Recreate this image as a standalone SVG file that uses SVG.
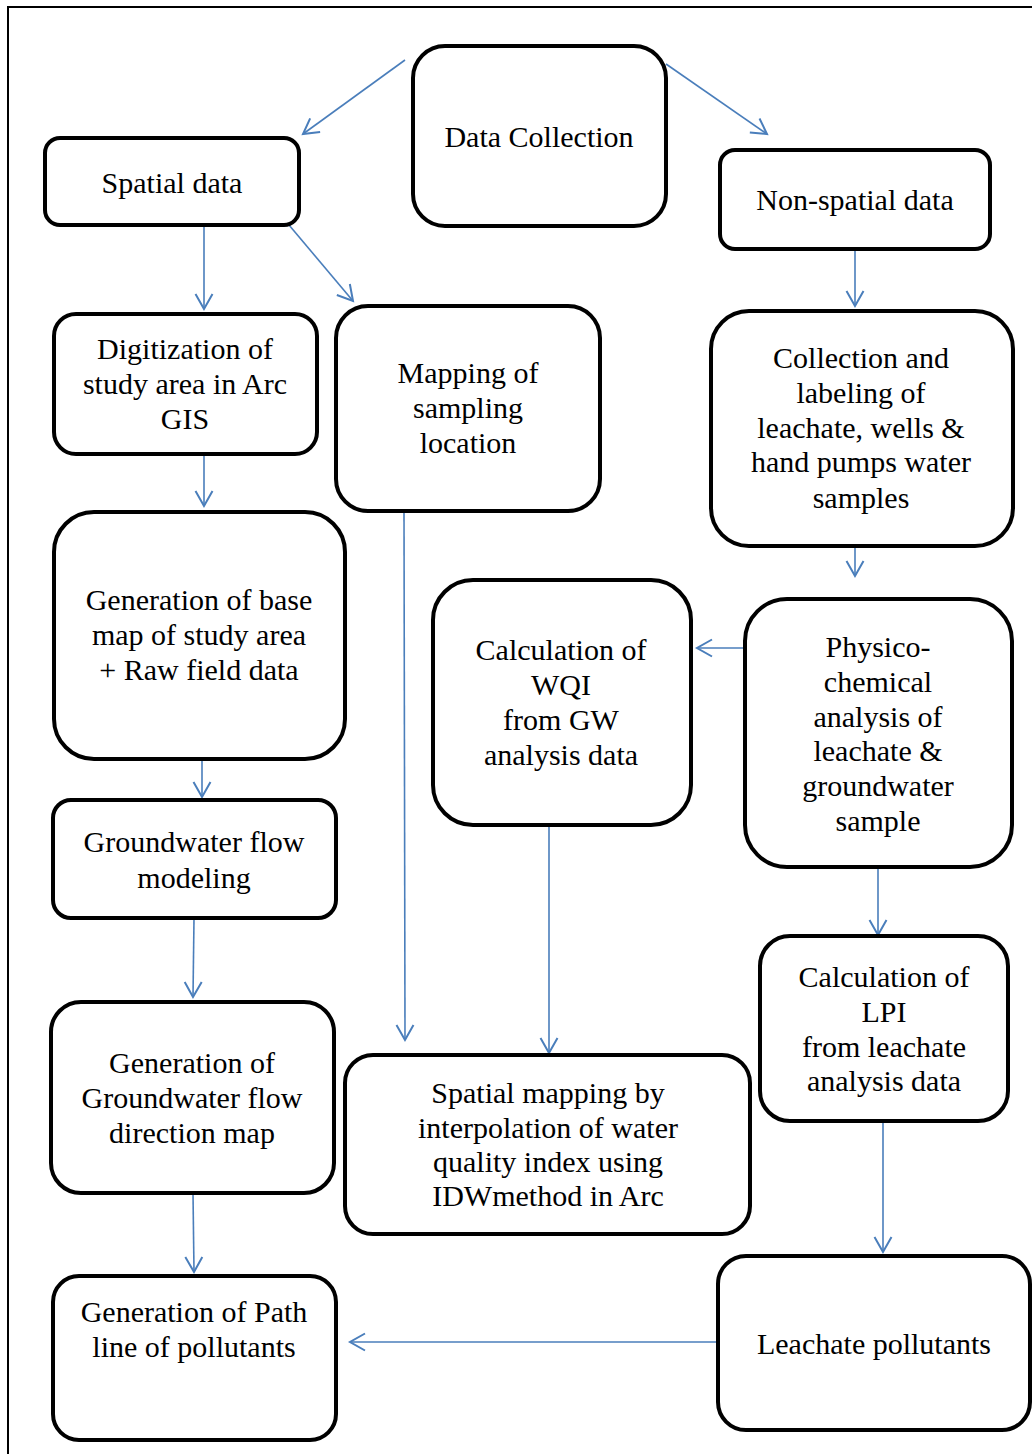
<svg xmlns="http://www.w3.org/2000/svg" width="1032" height="1454" viewBox="0 0 1032 1454">
<style>
.box{fill:#fff;stroke:#000;stroke-width:4}
.t{font-family:"Liberation Serif","Times New Roman",serif;font-size:30px;fill:#000;text-anchor:middle}
.c{stroke:#4a7ebb;stroke-width:1.6;fill:none}
</style>
<defs>
<marker id="ah" markerUnits="userSpaceOnUse" markerWidth="20" markerHeight="20" viewBox="0 0 20 20" refX="16" refY="10" orient="auto">
<path d="M1,1.5 L16,10 L1,18.5" fill="none" stroke="#4a7ebb" stroke-width="2"/>
</marker>
</defs>
<rect x="8" y="7" width="1040" height="1460" fill="none" stroke="#000" stroke-width="2"/>
<g id="connectors">
<line class="c" x1="405" y1="60" x2="303" y2="134" marker-end="url(#ah)"/>
<line class="c" x1="666" y1="64" x2="767" y2="134" marker-end="url(#ah)"/>
<line class="c" x1="204" y1="226" x2="204" y2="309" marker-end="url(#ah)"/>
<line class="c" x1="289" y1="225" x2="353" y2="301" marker-end="url(#ah)"/>
<line class="c" x1="855" y1="249" x2="855" y2="306" marker-end="url(#ah)"/>
<line class="c" x1="204" y1="455" x2="204" y2="506" marker-end="url(#ah)"/>
<line class="c" x1="855" y1="546" x2="855" y2="576" marker-end="url(#ah)"/>
<line class="c" x1="745" y1="648" x2="697" y2="648" marker-end="url(#ah)"/>
<line class="c" x1="202" y1="760" x2="202" y2="797" marker-end="url(#ah)"/>
<line class="c" x1="878" y1="868" x2="878" y2="935" marker-end="url(#ah)"/>
<line class="c" x1="194" y1="918" x2="193" y2="997" marker-end="url(#ah)"/>
<line class="c" x1="404" y1="511" x2="405" y2="1040" marker-end="url(#ah)"/>
<line class="c" x1="549" y1="825" x2="549" y2="1053" marker-end="url(#ah)"/>
<line class="c" x1="883" y1="1122" x2="883" y2="1252" marker-end="url(#ah)"/>
<line class="c" x1="193" y1="1193" x2="194" y2="1272" marker-end="url(#ah)"/>
<line class="c" x1="718" y1="1342" x2="350" y2="1342" marker-end="url(#ah)"/>
</g>
<g id="data-collection"><rect class="box" x="413" y="46" width="253" height="180" rx="32"/><text class="t" x="539" y="147">Data Collection</text></g>
<g id="spatial-data"><rect class="box" x="45" y="138" width="254" height="87" rx="15"/><text class="t" x="172" y="193">Spatial data</text></g>
<g id="non-spatial-data"><rect class="box" x="720" y="150" width="270" height="99" rx="15"/><text class="t" x="855" y="210">Non-spatial data</text></g>
<g id="digitization"><rect class="box" x="54" y="314" width="263" height="140" rx="22"/><text class="t" x="185" y="359">Digitization of</text><text class="t" x="185" y="394">study area in Arc</text><text class="t" x="185" y="429">GIS</text></g>
<g id="mapping"><rect class="box" x="336" y="306" width="264" height="205" rx="32"/><text class="t" x="468" y="383">Mapping of</text><text class="t" x="468" y="418">sampling</text><text class="t" x="468" y="453">location</text></g>
<g id="collection-labeling"><rect class="box" x="711" y="311" width="302" height="235" rx="38"/><text class="t" x="861" y="368">Collection and</text><text class="t" x="861" y="403">labeling of</text><text class="t" x="861" y="438">leachate, wells &amp;</text><text class="t" x="861" y="472">hand pumps water</text><text class="t" x="861" y="508">samples</text></g>
<g id="base-map"><rect class="box" x="54" y="512" width="291" height="247" rx="40"/><text class="t" x="199" y="610">Generation of base</text><text class="t" x="199" y="645">map of study area</text><text class="t" x="199" y="680">+ Raw field data</text></g>
<g id="wqi"><rect class="box" x="433" y="580" width="258" height="245" rx="40"/><text class="t" x="561" y="660">Calculation of</text><text class="t" x="561" y="695">WQI</text><text class="t" x="561" y="730">from GW</text><text class="t" x="561" y="765">analysis data</text></g>
<g id="physico-chemical"><rect class="box" x="745" y="599" width="267" height="268" rx="42"/><text class="t" x="878" y="657">Physico-</text><text class="t" x="878" y="692">chemical</text><text class="t" x="878" y="727">analysis of</text><text class="t" x="878" y="761">leachate &amp;</text><text class="t" x="878" y="796">groundwater</text><text class="t" x="878" y="831">sample</text></g>
<g id="gw-flow-modeling"><rect class="box" x="53" y="800" width="283" height="118" rx="18"/><text class="t" x="194" y="852">Groundwater flow</text><text class="t" x="194" y="888">modeling</text></g>
<g id="lpi"><rect class="box" x="760" y="936" width="248" height="185" rx="30"/><text class="t" x="884" y="987">Calculation of</text><text class="t" x="884" y="1022">LPI</text><text class="t" x="884" y="1057">from leachate</text><text class="t" x="884" y="1091">analysis data</text></g>
<g id="gw-flow-direction"><rect class="box" x="51" y="1002" width="283" height="191" rx="30"/><text class="t" x="192" y="1073">Generation of</text><text class="t" x="192" y="1108">Groundwater flow</text><text class="t" x="192" y="1143">direction map</text></g>
<g id="spatial-mapping"><rect class="box" x="345" y="1055" width="405" height="179" rx="28"/><text class="t" x="548" y="1103">Spatial mapping by</text><text class="t" x="548" y="1138">interpolation of water</text><text class="t" x="548" y="1172">quality index using</text><text class="t" x="548" y="1206">IDWmethod in Arc</text></g>
<g id="path-line"><rect class="box" x="53" y="1276" width="283" height="164" rx="26"/><text class="t" x="194" y="1322">Generation of Path</text><text class="t" x="194" y="1357">line of pollutants</text></g>
<g id="leachate-pollutants"><rect class="box" x="718" y="1256" width="312" height="174" rx="28"/><text class="t" x="874" y="1354">Leachate pollutants</text></g>
</svg>
